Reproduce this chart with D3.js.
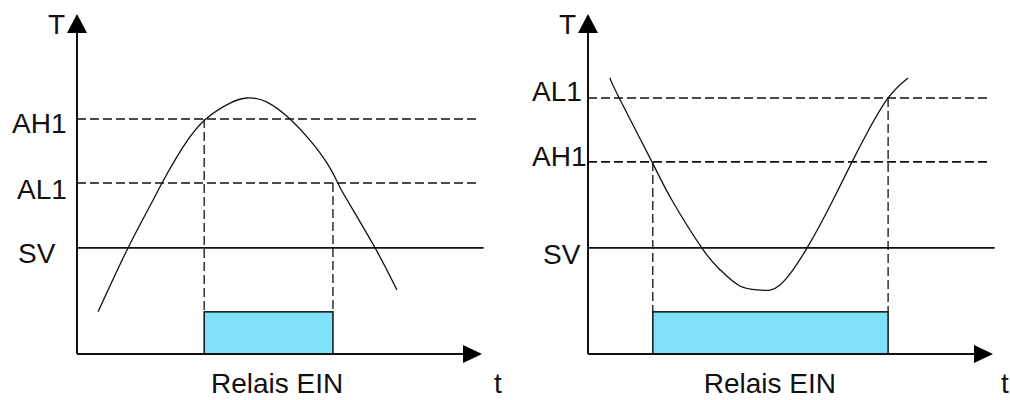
<!DOCTYPE html>
<meta charset="utf-8">
<style>
body { margin: 0; background: #fff; }
text {
    font-family: "Liberation Sans", Arial, sans-serif;
    font-size: 28px;
    fill: #111;
}
</style>
<svg id="thevis" width="1010" height="400"></svg>
<script src="https://d3js.org/d3.v7.min.js"></script>
<script>

// ---- data (time 0..100, temperature 0..100) ----

var levelNamesLeft  = ["AH1", "AL1", "SV"];
var levelValuesLeft = [69.1, 50.3, 31.2];

var levelNamesRight  = ["AL1", "AH1", "SV"];
var levelValuesRight = [75.3, 56.5, 31.2];

// temperature curve, left panel (over-temperature alarm)
var curveTimeLeft = [5.2, 12.6, 18.8, 21.0, 26.2, 31.8, 37.8, 42.0, 46.9, 52.6,
                     57.5, 61.7, 64.4, 66.7, 73.6, 79.0];
var curveTempLeft = [12.4, 31.2, 45.3, 50.3, 60.9, 69.1, 73.8, 75.3, 74.1, 69.1,
                     62.9, 56.2, 50.3, 45.3, 31.2, 18.8];

// temperature curve, right panel (under-temperature alarm)
var curveTimeRight = [5.4, 7.7, 15.8, 20.7, 28.1, 32.6, 37.5, 42.5, 47.4,
                      54.1, 60.5, 65.2, 68.9, 74.1, 79.0];
var curveTempRight = [81.2, 75.3, 56.5, 45.3, 31.2, 24.8, 20.0, 18.8, 20.3,
                      31.2, 45.3, 56.5, 65.0, 75.3, 81.2];

// relay on / off times and the height of the relay block
var relayLeft  = [31.4, 63.2];
var relayRight = [16.0, 74.1];
var relayLevel = 12.4;

var relayText = "Relais EIN";
var yAxisText = "T";
var xAxisText = "t";

// ---- layout (pixels) ----

var svg = d3.select("svg");

var panels = [
    {x0: 77, x1: 482,
     names: levelNamesLeft, values: levelValuesLeft,
     time: curveTimeLeft, temp: curveTempLeft, relay: relayLeft,
     labelX: [12, 17, 18], labelDy: [14, 16, 15], relayTextX: 49.4, tDx: 12},
    {x0: 588, x1: 993,
     names: levelNamesRight, values: levelValuesRight,
     time: curveTimeRight, temp: curveTempRight, relay: relayRight,
     labelX: [532, 532, 543], labelDy: [3, 4, 16], relayTextX: 44.9, tDx: 8}
];

var y = d3.scaleLinear().domain([0, 100]).range([354, 14]);

var arrow = {len: 19, half: 10};

panels.forEach(function (p) {

    var x = d3.scaleLinear().domain([0, 100]).range([p.x0, p.x1]);
    var g = svg.append("g");

    // horizontal level lines (SV solid, alarms dashed)
    var levels = p.names.map(function (n, i) { return {name: n, v: p.values[i], i: i}; });

    g.selectAll(".level")
        .data(levels)
        .enter().append("line")
        .attr("x1", x(0))
        .attr("x2", d => d.name == "SV" ? x(100.4) : x(99.5))
        .attr("y1", d => y(d.v)).attr("y2", d => y(d.v))
        .attr("stroke", "#111")
        .attr("stroke-width", 1.6)
        .attr("stroke-dasharray", d => d.name == "SV" ? null : "9,4");

    g.selectAll(".lvlLabel")
        .data(levels)
        .enter().append("text")
        .attr("x", d => p.labelX[d.i])
        .attr("y", d => y(d.v) + p.labelDy[d.i])
        .text(d => d.name);

    // vertical dashed drop lines from the switching points to the relay block
    var onLevel = p.names[0] == "AH1" ? p.values[0] : p.values[1];
    var offLevel = p.names[0] == "AH1" ? p.values[1] : p.values[0];
    var drops = [{t: p.relay[0], v: onLevel}, {t: p.relay[1], v: offLevel}];

    g.selectAll(".drop")
        .data(drops)
        .enter().append("line")
        .attr("x1", d => x(d.t)).attr("x2", d => x(d.t))
        .attr("y1", d => y(d.v)).attr("y2", y(relayLevel))
        .attr("stroke", "#111")
        .attr("stroke-width", 1.3)
        .attr("stroke-dasharray", "9,4");

    // relay block
    g.append("rect")
        .attr("x", x(p.relay[0]))
        .attr("y", y(relayLevel))
        .attr("width", x(p.relay[1]) - x(p.relay[0]))
        .attr("height", y(0) - y(relayLevel))
        .attr("fill", "#80e0f8")
        .attr("stroke", "#111")
        .attr("stroke-width", 1.5);

    // temperature curve
    var pts = p.time.map(function (t, i) { return [t, p.temp[i]]; });
    var line = d3.line()
        .x(d => x(d[0])).y(d => y(d[1]))
        .curve(d3.curveNatural);

    g.append("path")
        .attr("d", line(pts))
        .attr("fill", "none")
        .attr("stroke", "#111")
        .attr("stroke-width", 1.3);

    // axes with arrow heads
    g.append("line")
        .attr("x1", x(0)).attr("x2", x(0))
        .attr("y1", y(0)).attr("y2", y(100) + arrow.len)
        .attr("stroke", "#111").attr("stroke-width", 2);
    g.append("line")
        .attr("x1", x(0)).attr("x2", x(100) - arrow.len)
        .attr("y1", y(0)).attr("y2", y(0))
        .attr("stroke", "#111").attr("stroke-width", 2);

    g.append("path")
        .attr("d", "M" + x(0) + "," + y(100)
              + "L" + (x(0) + arrow.half) + "," + (y(100) + arrow.len)
              + "L" + (x(0) - arrow.half) + "," + (y(100) + arrow.len) + "Z")
        .attr("fill", "#000");
    g.append("path")
        .attr("d", "M" + x(100) + "," + y(0)
              + "L" + (x(100) - arrow.len) + "," + (y(0) - arrow.half + 1)
              + "L" + (x(100) - arrow.len) + "," + (y(0) + arrow.half - 1) + "Z")
        .attr("fill", "#000");

    // axis titles
    g.append("text")
        .attr("x", x(0) - 12).attr("y", y(100) + 20)
        .attr("text-anchor", "end")
        .text(yAxisText);
    g.append("text")
        .attr("x", x(100) + p.tDx).attr("y", 393)
        .text(xAxisText);

    g.append("text")
        .attr("x", x(p.relayTextX)).attr("y", 393)
        .attr("text-anchor", "middle")
        .text(relayText);
});

</script>
